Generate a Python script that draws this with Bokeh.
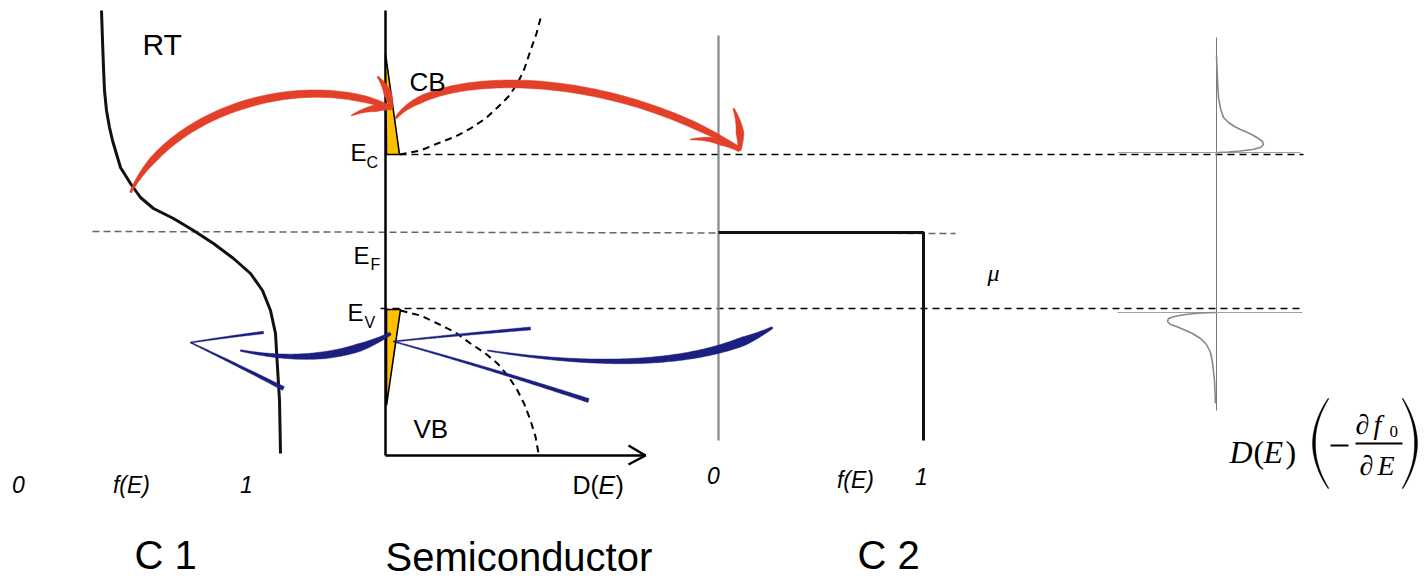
import numpy as np
from math import comb
from bokeh.plotting import figure
from bokeh.models import Range1d
from bokeh.core.properties import value
from bokeh.embed import file_html
from bokeh.resources import INLINE

# ---------------- data (pixel space) ----------------
# energy levels
E_C = 154
E_F = 232
E_V = 308

# C1 Fermi-Dirac occupation at room temperature
fermi_x = [101, 102, 103, 104, 106, 109, 112, 120, 130, 140, 153, 173, 193, 213, 233, 250, 262, 270, 275, 277, 279, 280]
fermi_y = [10, 40, 67, 90, 110, 127, 140, 167, 183, 197, 208, 218, 230, 243, 258, 273, 290, 310, 333, 367, 400, 453]

# semiconductor density of states (dashed)
dos_cb_x = [399, 420, 437, 455, 470, 485, 497, 508, 517, 524, 530, 536, 540]
dos_cb_y = [154, 150, 143, 136, 128, 118, 107, 96, 83, 68, 50, 33, 18]
dos_vb_x = [400, 420, 437, 455, 470, 485, 497, 508, 517, 524, 530, 535, 538]
dos_vb_y = [310, 315, 323, 332, 343, 353, 363, 376, 390, 404, 420, 436, 453]

# yellow occupied states (triangles)
tri_cb_x = [385, 386, 399]
tri_cb_y = [53, 154, 154]
tri_vb_x = [386, 400, 386]
tri_vb_y = [309, 309, 405]

# C2 zero-temperature occupation (step)
step_x = [718, 923, 923]
step_y = [E_F, E_F, 440]

# right panel: D(E)(-df0/dE)
der_top_x = [1216, 1217, 1218, 1220, 1223, 1228, 1234, 1240, 1247, 1253, 1258, 1262, 1263, 1260, 1252, 1240, 1228, 1217]
der_top_y = [55, 80, 97, 108, 117, 122, 126, 129, 132, 135, 138, 141, 144, 147, 149, 150.5, 151.5, 152]
der_bot_x = [1215, 1200, 1185, 1174, 1168, 1167, 1170, 1176, 1183, 1192, 1200, 1206, 1210, 1212, 1214, 1215]
der_bot_y = [312, 312.5, 314, 316, 318, 321, 324, 326, 329, 333, 338, 344, 352, 362, 380, 403]

# arrows (bezier control points) and width profiles
red1 = [(130, 192), (170, 110), (300, 70), (390, 107)]
red1_up = [(377, 76), (388, 88), (391, 108)]
red1_lo = [(351, 115), (372, 105), (391, 108)]
red2 = [(395, 118), (430, 70), (600, 65), (738, 148)]
red2_up = [(733, 108), (742, 128), (739, 150)]
red2_lo = [(690, 139), (718, 136), (739, 150)]
blue1 = [(390, 333), (330, 368), (240, 350)]
blue1_up = [(190, 342), (230, 336), (263, 332)]
blue1_lo = [(190, 342), (240, 366), (283, 388)]
blue2 = [(772, 327), (680, 380), (487, 350)]
blue2_up = [(393, 341), (460, 334), (530, 328)]
blue2_lo = [(393, 341), (490, 368), (588, 400)]

RED = "#E3402A"
BLUE = "#1B1F80"
YELLOW = "#FFC000"


def stroke(ctrl, wt, ww, n=90):
    c = np.array(ctrl, float)
    k = len(c) - 1
    t = np.linspace(0, 1, n)
    pts = np.zeros((n, 2))
    for i in range(k + 1):
        pts += (comb(k, i) * (1 - t) ** (k - i) * t ** i)[:, None] * c[i]
    d = np.gradient(pts, axis=0)
    nrm = np.stack([-d[:, 1], d[:, 0]], 1)
    nrm /= np.linalg.norm(nrm, axis=1)[:, None]
    w = np.interp(t, wt, ww) / 2
    L = pts + nrm * w[:, None]
    R = pts - nrm * w[:, None]
    poly = np.vstack([L, R[::-1]])
    return list(poly[:, 0]), list(poly[:, 1])


p = figure(width=1424, height=581, x_range=Range1d(0, 1424), y_range=Range1d(581, 0),
           output_backend="svg", toolbar_location=None, min_border=0)
p.axis.visible = False
p.grid.visible = False
p.outline_line_color = None
p.background_fill_color = "white"

# level lines
p.line([92, 955], [E_F - 1, E_F + 1], line_color="#666666", line_width=1.5, line_dash="7 4")
p.line([399, 1303], [E_C, E_C], line_color="black", line_width=1.6, line_dash="7 5")
p.line([380, 1300], [E_V, E_V], line_color="black", line_width=1.6, line_dash="7 5")

# C1 curve
p.line(fermi_x, fermi_y, line_color="#111111", line_width=3, line_join="round")

# semiconductor axes
p.line([385, 385], [10, 455], line_color="black", line_width=2.5)
p.line([385, 645], [455, 455], line_color="black", line_width=2.5)
p.line([628, 645, 628], [445, 455, 464], line_color="black", line_width=2.5)
p.line(dos_cb_x, dos_cb_y, line_color="black", line_width=2, line_dash="7 5")
p.line(dos_vb_x, dos_vb_y, line_color="black", line_width=2, line_dash="7 5")
p.patch(tri_cb_x, tri_cb_y, fill_color=YELLOW, line_color="black", line_width=1.6)
p.patch(tri_vb_x, tri_vb_y, fill_color=YELLOW, line_color="black", line_width=1.6)

# C2
p.line([718, 718], [35, 440], line_color="#888888", line_width=2.2)
p.line(step_x, step_y, line_color="#111111", line_width=3)

# right panel
p.line([1216, 1216], [37, 410], line_color="#777777", line_width=1)
p.line([1117, 1300], [152, 152], line_color="#a0a0a0", line_width=1.2)
p.line([1117, 1302], [312, 312], line_color="#a0a0a0", line_width=1.2)
p.line(der_top_x, der_top_y, line_color="#888888", line_width=1.6)
p.line(der_bot_x, der_bot_y, line_color="#888888", line_width=1.6)

# arrows
red_parts = [
    stroke(red1, [0, 0.15, 0.5, 0.9, 1], [2, 7, 8, 7, 4]),
    stroke(red1_up, [0, 0.6, 1], [1.5, 8, 3]),
    stroke(red1_lo, [0, 0.6, 1], [1, 7, 3]),
    stroke(red2, [0, 0.15, 0.5, 0.9, 1], [2, 7, 8, 7, 4]),
    stroke(red2_up, [0, 0.6, 1], [1.5, 8, 3]),
    stroke(red2_lo, [0, 0.6, 1], [1, 7, 3]),
]
p.patches([r[0] for r in red_parts], [r[1] for r in red_parts],
          fill_color=RED, line_color=RED, line_width=0.5)
blue_parts = [
    stroke(blue1, [0, 0.25, 0.5, 1], [3, 8, 7, 1.5]),
    stroke(blue1_up, [0, 1], [1, 2.5]),
    stroke(blue1_lo, [0, 1], [1, 4]),
    stroke(blue2, [0, 0.15, 0.5, 1], [2, 9, 6, 1]),
    stroke(blue2_up, [0, 1], [1, 3]),
    stroke(blue2_lo, [0, 1], [1, 4]),
]
p.patches([b[0] for b in blue_parts], [b[1] for b in blue_parts],
          fill_color=BLUE, line_color=BLUE, line_width=0.5)

# texts
SANS = value("Liberation Sans")
SERIF = value("Liberation Serif")


def txt(x, y, s, size, font=SANS, style="normal", align="left"):
    p.text(x=[x], y=[y], text=[s], text_font=font, text_font_size=f"{size}px",
           text_font_style=style, text_align=align, text_baseline="middle", text_color="black")


txt(142, 44, "RT", 30)
txt(409, 81, "CB", 26)
txt(413, 428, "VB", 26)
txt(350, 152, "E", 24)
txt(366, 162, "C", 16)
txt(353, 255, "E", 24)
txt(370, 264, "F", 16)
txt(347, 312, "E", 24)
txt(364, 322, "V", 16)
txt(572, 484, "D(", 25)
txt(598, 484, "E", 25, style="italic")
txt(615, 484, ")", 25)
txt(18, 484, "0", 23, style="italic", align="center")
txt(131, 484, "f(E)", 23, style="italic", align="center")
txt(246, 484, "1", 23, style="italic", align="center")
txt(713, 475, "0", 23, style="italic", align="center")
txt(855, 479, "f(E)", 23, style="italic", align="center")
txt(921, 476, "1", 23, style="italic", align="center")
txt(165, 554, "C 1", 40, align="center")
txt(385, 556, "Semiconductor", 40)
txt(888, 554, "C 2", 40, align="center")
txt(993, 272, "μ", 24, font=SERIF, style="italic", align="center")

# math label D(E)(-df0/dE)
txt(1229, 451, "D", 32, font=SERIF, style="italic")
txt(1253, 451, "(", 32, font=SERIF)
txt(1263, 451, "E", 32, font=SERIF, style="italic")
txt(1285, 451, ")", 32, font=SERIF)
paren = [stroke([(1328, 398), (1299, 443), (1328, 488)], [0, 0.5, 1], [1, 3.2, 1]),
         stroke([(1402, 398), (1429, 443), (1402, 488)], [0, 0.5, 1], [1, 3.2, 1])]
p.patches([q[0] for q in paren], [q[1] for q in paren], fill_color="black", line_color="black", line_width=0.3)
p.line([1330, 1348], [445, 445], line_color="black", line_width=2)
p.line([1355, 1402], [443, 443], line_color="black", line_width=2.2)
txt(1355, 424, "∂", 28, font=SERIF, style="italic")
txt(1373, 424, "f", 28, font=SERIF, style="italic")
txt(1389, 431, "0", 17, font=SERIF)
txt(1359, 465, "∂", 28, font=SERIF, style="italic")
txt(1377, 465, "E", 28, font=SERIF, style="italic")

open("out.html", "w").write(file_html(p, INLINE))
